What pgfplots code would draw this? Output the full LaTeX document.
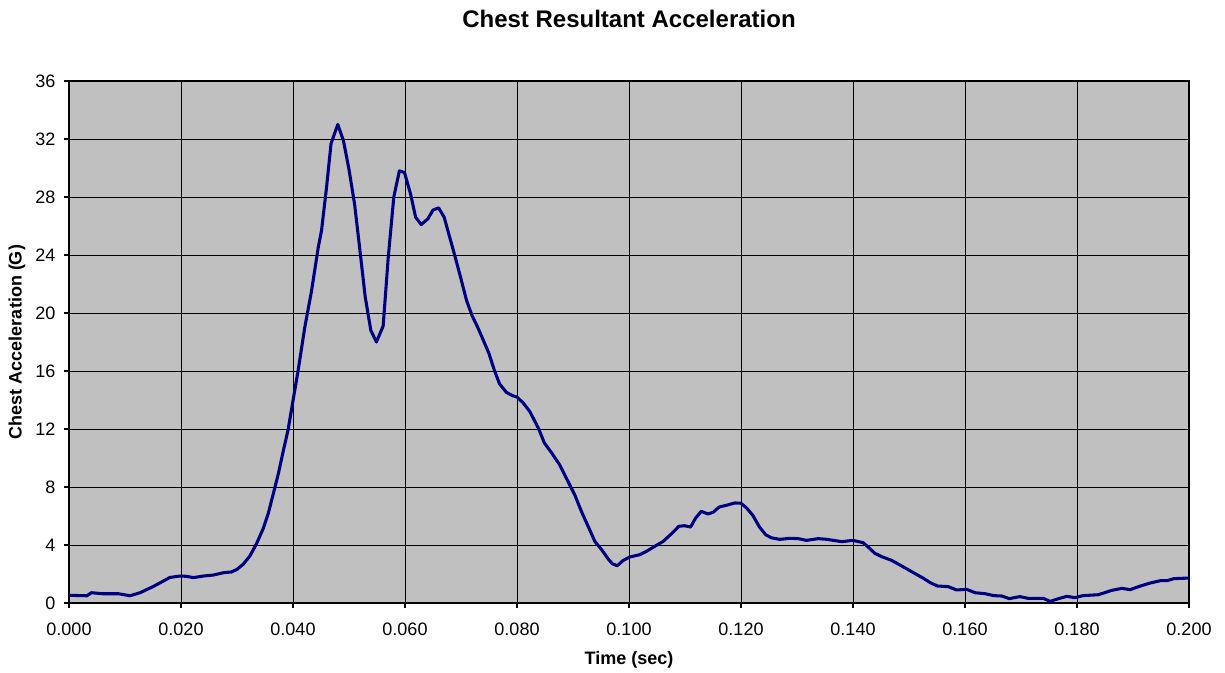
\documentclass[border=0pt]{standalone}
\usepackage{fontspec}
\setmainfont{Liberation Sans}
\usepackage{pgfplots}
\pgfplotsset{compat=1.18}
\usepackage{pgfplotstable}
\definecolor{plotbg}{RGB}{192,192,192}
\definecolor{navyline}{RGB}{0,0,128}
\pgfplotstableread{
t v
0.000 0.53
0.0032 0.50
0.0040 0.71
0.0060 0.64
0.0088 0.64
0.0109 0.50
0.0127 0.71
0.0150 1.13
0.0163 1.40
0.0180 1.76
0.0198 1.86
0.0210 1.84
0.0222 1.75
0.0240 1.86
0.0258 1.93
0.0276 2.09
0.0290 2.14
0.0300 2.32
0.0311 2.67
0.0323 3.24
0.0335 4.10
0.0347 5.15
0.0356 6.20
0.0365 7.56
0.0374 8.94
0.0383 10.55
0.0391 11.9
0.0400 13.95
0.0409 16.0
0.0421 19.0
0.0433 21.5
0.0445 24.5
0.0451 25.7
0.0460 28.7
0.0468 31.7
0.0480 33.0
0.0490 31.9
0.0500 29.9
0.0510 27.5
0.0519 24.5
0.0529 21.1
0.0539 18.8
0.0549 18.0
0.0561 19.1
0.0570 23.8
0.0580 28.0
0.0590 29.8
0.0599 29.7
0.0610 28.2
0.0619 26.6
0.0629 26.1
0.0641 26.5
0.0650 27.1
0.0660 27.25
0.0670 26.6
0.0680 25.2
0.0689 23.95
0.0699 22.5
0.0710 20.85
0.0720 19.8
0.0730 19.0
0.0739 18.2
0.0750 17.2
0.0760 16.0
0.0769 15.1
0.0781 14.53
0.0792 14.3
0.0800 14.2
0.0811 13.8
0.0823 13.2
0.0838 12.07
0.0849 11.03
0.0861 10.4
0.0876 9.54
0.0888 8.62
0.0903 7.47
0.0915 6.32
0.0927 5.29
0.0939 4.25
0.0951 3.68
0.0963 3.03
0.0970 2.71
0.0979 2.57
0.0989 2.92
0.1001 3.17
0.1019 3.33
0.1031 3.56
0.1046 3.91
0.1061 4.25
0.1076 4.78
0.1089 5.29
0.1099 5.33
0.1110 5.24
0.1119 5.86
0.1129 6.32
0.1141 6.14
0.1150 6.25
0.1161 6.62
0.1174 6.74
0.1189 6.9
0.1200 6.88
0.1210 6.55
0.1221 6.05
0.1233 5.24
0.1244 4.71
0.1254 4.5
0.1269 4.39
0.1287 4.46
0.1302 4.44
0.1317 4.32
0.1338 4.44
0.1353 4.39
0.1380 4.23
0.1400 4.32
0.1418 4.16
0.1427 3.86
0.1439 3.43
0.1451 3.20
0.1469 2.94
0.1487 2.55
0.1508 2.09
0.1526 1.70
0.1538 1.40
0.1551 1.17
0.1570 1.13
0.1585 0.90
0.1603 0.94
0.1618 0.71
0.1636 0.64
0.1651 0.51
0.1666 0.48
0.1679 0.30
0.1698 0.44
0.1713 0.32
0.1740 0.32
0.1752 0.11
0.1767 0.30
0.1782 0.46
0.1796 0.37
0.1811 0.51
0.1838 0.57
0.1862 0.87
0.1880 1.01
0.1895 0.92
0.1913 1.17
0.1931 1.38
0.1949 1.54
0.1961 1.54
0.1973 1.68
0.2000 1.72
}\chestdata
\begin{document}
\begin{tikzpicture}
\path[use as bounding box] (-51.75pt,-51.75pt) rectangle (867pt,452.25pt);
\begin{axis}[
  at={(0,0)}, anchor=south west,
  scale only axis,
  width=840pt, height=391.5pt,
  xmin=0, xmax=0.2, ymin=0, ymax=36,
  xtick={0,0.02,...,0.2001},
  ytick={0,4,...,36},
  scaled x ticks=false,
  axis background/.style={fill=plotbg},
  axis line style={line width=1.8pt, black},
  tick align=outside,
  major tick length=3.75pt,
  tick style={black, line width=0.8pt},
  xtick pos=bottom, ytick pos=left,
  grid=major,
  major grid style={black, line width=0.6pt},
  /pgf/number format/assume math mode=true,
  xticklabel style={font=\fontsize{13.5}{16}\selectfont, yshift=-8pt, /pgf/number format/.cd, fixed, fixed zerofill, precision=3},
  yticklabel style={font=\fontsize{13.5}{16}\selectfont, xshift=-3pt},
  title={\textbf{Chest Resultant Acceleration}},
  title style={font=\fontsize{18}{21}\selectfont, at={(axis description cs:0.5,1.1034)}, anchor=center},
  xlabel={\textbf{Time (sec)}},
  xlabel style={font=\fontsize{13.5}{16}\selectfont, at={(axis description cs:0.5,-0.1092)}, anchor=center},
  ylabel={\textbf{Chest Acceleration (G)}},
  ylabel style={font=\fontsize{13.5}{16}\selectfont, at={(axis description cs:-0.0464,0.5)}, anchor=center, rotate=0},
]
\addplot[navyline, line width=2.3pt, line join=round] table[x=t, y=v] {\chestdata};
\end{axis}
\end{tikzpicture}
\end{document}
